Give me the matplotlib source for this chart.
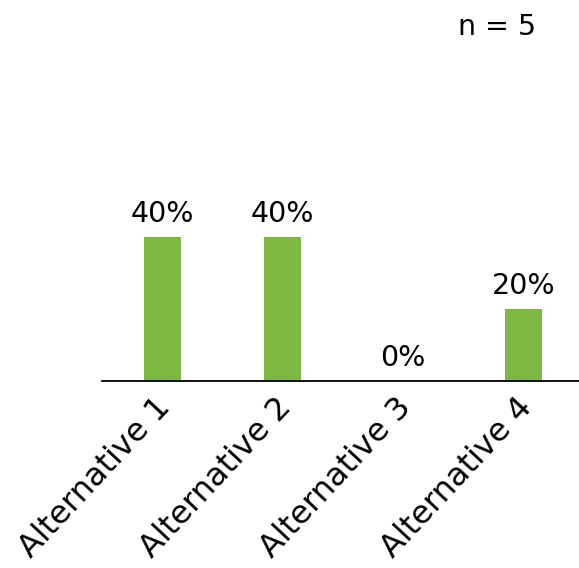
import matplotlib.pyplot as plt
import matplotlib.transforms as mtransforms

categories = ['Alternative 1', 'Alternative 2', 'Alternative 3', 'Alternative 4']
shares = [0.40, 0.40, 0.0, 0.20]
value_labels = ['40%', '40%', '0%', '20%']
sample_note = 'n = 5'

GREEN = '#7EB843'

plt.rcParams['font.family'] = ['DejaVu Sans']

fig = plt.figure(figsize=(5.79, 5.68), dpi=100)
ax = fig.add_axes([102 / 579, 1 - 381 / 568, 477 / 579, 360 / 568])

x = range(len(categories))
ax.bar(x, shares, 0.31, color=GREEN)

for i, (v, lab) in enumerate(zip(shares, value_labels)):
    ax.text(i, v + 0.025, lab, ha='center', va='bottom', fontsize=20.5)

ax.set_xlim(-0.5, 3.46)
ax.set_ylim(0, 1)

for name, spine in ax.spines.items():
    if name != 'bottom':
        spine.set_visible(False)
ax.spines['bottom'].set_linewidth(1.3)

ax.set_yticks([])
ax.set_xticks(list(x))
ax.set_xticklabels(categories, rotation=47, ha='right', rotation_mode='anchor', fontsize=23)
ax.tick_params(axis='x', length=0, pad=8)

# nudge the rotated labels a bit to the left
shift = mtransforms.ScaledTranslation(-8 / 100, 0, fig.dpi_scale_trans)
for lbl in ax.get_xticklabels():
    lbl.set_transform(lbl.get_transform() + shift)

fig.text(497 / 579, 1 - 27 / 568, sample_note, ha='center', va='center', fontsize=20.5)

fig.savefig('out.png', dpi=100)
